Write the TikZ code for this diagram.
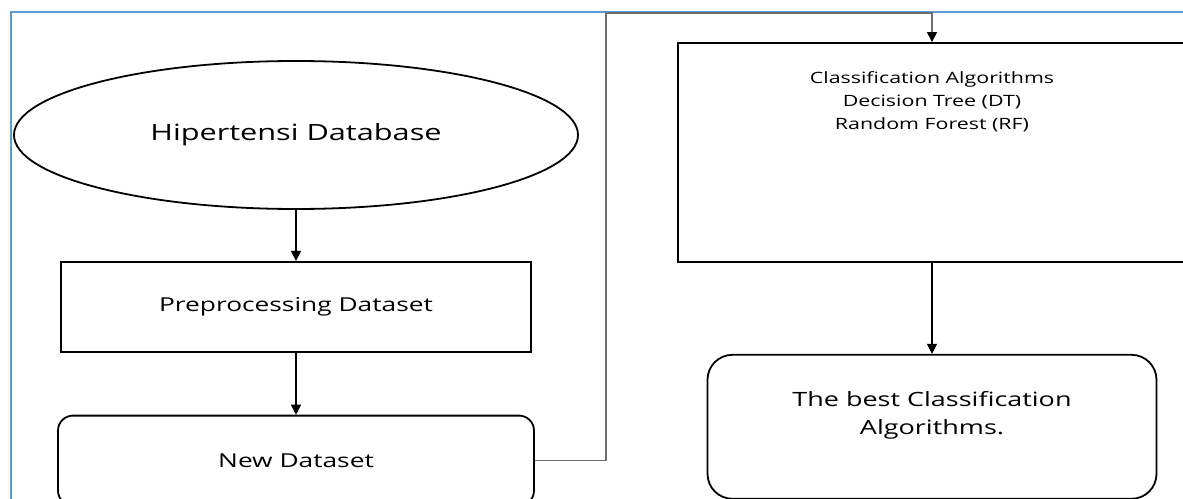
\documentclass[tikz,border=0pt]{standalone}
\usepackage{fontspec}
\setmainfont{Open Sans}[FakeStretch=1.37]
\usepackage{tikz}
\usetikzlibrary{arrows.meta, shapes.geometric, positioning, calc}
\definecolor{framebl}{RGB}{91, 155, 213}
\definecolor{linkgray}{RGB}{110, 110, 110}

\begin{document}
\begin{tikzpicture}[
          x=1pt, y=-1pt,
          base/.style={draw, line width=1.8pt, align=center, inner sep=0pt},
          oval/.style={base, ellipse, minimum width=564pt, minimum height=148pt,
                       font=\fontsize{22.4}{27}\selectfont},
          plain/.style={base, minimum width=470pt, minimum height=90pt,
                        font=\fontsize{19.2}{24}\selectfont},
          soft/.style={base, rounded corners=15pt, minimum width=476pt, minimum height=90pt,
                       font=\fontsize{19.2}{24}\selectfont},
          arr/.style={-{Triangle[length=10pt, width=10pt]}, line width=1.1pt},
          link/.style={-{Triangle[length=10pt, width=10pt, color=black]}, line width=1.1pt,
                       draw=linkgray},
          frame/.style={draw=framebl, line width=2pt},
        ]
        \useasboundingbox (0,0) rectangle (1183,498);
        \clip (0,0) rectangle (1183,498);

        \draw[frame] (11,520) |- (1200,12);

        % left column
        \node[oval] (db) at (296,135) {Hipertensi Database};
        \node[plain, below=51pt of db] (prep) {Preprocessing Dataset};
        \node[soft, below=62pt of prep] (newds) {New Dataset};

        % right column
        \node[base, minimum width=508pt, minimum height=219pt] (cls) at (932,152.5) {};
        \node[font=\fontsize{15.6}{23}\selectfont, align=center, below=26pt of cls.north] (clstxt)
              {Classification Algorithms\\Decision Tree (DT)\\Random Forest (RF)};
        \node[soft, rounded corners=25pt, minimum width=449pt, minimum height=144pt,
              font=\fontsize{19.7}{28}\selectfont, below=91pt of cls] (best)
              {The best Classification\\Algorithms.\\[0pt]};

        \coordinate (turn) at (606,13);

        \draw[arr] (db) -- (prep);
        \draw[arr] (prep) -- (newds);
        \draw[link] (newds.east) -| (turn) -| (cls.north);
        \draw[arr] (cls) -- (best);
      \end{tikzpicture}
\end{document}
